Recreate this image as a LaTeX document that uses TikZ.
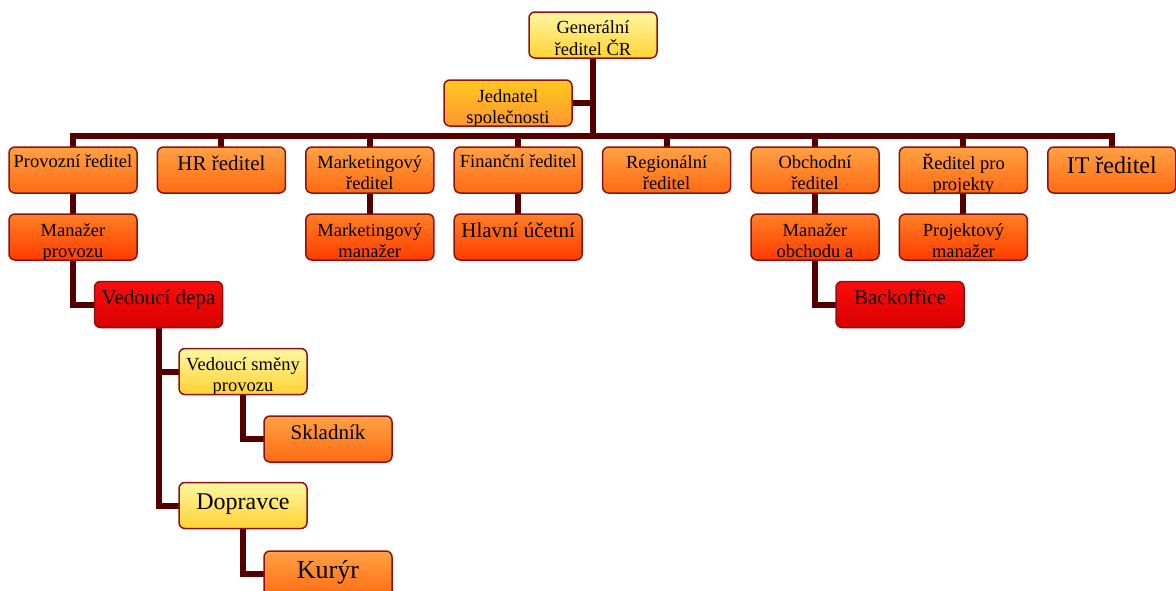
\documentclass[tikz,border=0pt]{standalone}
\usepackage{fontspec}
\setmainfont{Liberation Serif}
\usetikzlibrary{backgrounds}

\definecolor{edgec}{HTML}{8C1212}
\definecolor{linkc}{HTML}{520000}
\definecolor{yeltop}{HTML}{FFF7A2}
\definecolor{yelbot}{HTML}{FFD232}
\definecolor{ambtop}{HTML}{FFC81E}
\definecolor{ambbot}{HTML}{FF9632}
\definecolor{orgtop}{HTML}{FFA244}
\definecolor{orgbot}{HTML}{FF6A12}
\definecolor{ortop}{HTML}{FF8024}
\definecolor{orbot}{HTML}{FF3C00}
\definecolor{redtop}{HTML}{FF0C0C}
\definecolor{redbot}{HTML}{D60000}

\tikzset{
  orgbox/.style={draw=edgec, line width=1.5pt, rounded corners=6pt,
    minimum width=128pt, minimum height=46pt, inner sep=0pt, outer sep=0pt},
  yel/.style={top color=yeltop, bottom color=yelbot},
  amb/.style={top color=ambtop, bottom color=ambbot},
  org/.style={top color=orgtop, bottom color=orgbot},
  orr/.style={top color=ortop, bottom color=orbot},
  rd/.style={top color=redtop, bottom color=redbot},
  link/.style={draw=linkc, line width=6pt},
}

% name, x, y, fill style, font size, baseline offset from top, text
\newcommand\orgnode[7]{%
  \node[orgbox,#4,path picture={%
      \node[anchor=base,inner sep=0pt] at ([yshift=-#6pt]path picture bounding box.north)
        {\fontsize{#5pt}{21pt}\selectfont\begin{tabular}[t]{@{}c@{}}#7\end{tabular}};}]
    (#1) at (#2,#3) {};}

\begin{document}
\begin{tikzpicture}[x=1pt,y=-1pt]
\useasboundingbox (0,0) rectangle (1176,590);
\clip (0,0) rectangle (1176,590);

% top
\orgnode{gen}{593}{35}{yel}{18.5}{21.2}{Generální\\ředitel ČR}
\orgnode{jed}{508}{103}{amb}{18.5}{22.2}{Jednatel\\společnosti}

% directors
\orgnode{prov}{73}{170}{org}{18.5}{20.8}{Provozní ředitel}
\orgnode{hr}{221.4}{170}{org}{21}{23.7}{HR ředitel}
\orgnode{mark}{369.8}{170}{org}{18.5}{21.2}{Marketingový\\ředitel}
\orgnode{fin}{518.2}{170}{org}{18.5}{20.8}{Finanční ředitel}
\orgnode{reg}{666.6}{170}{org}{18.5}{21.2}{Regionální\\ředitel}
\orgnode{obch}{815}{170}{org}{18.5}{21.2}{Obchodní\\ředitel}
\orgnode{proj}{963.4}{170}{org}{18.5}{22.2}{Ředitel pro\\projekty}
\orgnode{it}{1111.8}{170}{org}{24}{26}{IT ředitel}

% managers
\orgnode{mprov}{73}{237}{orr}{18.5}{22.4}{Manažer\\provozu}
\orgnode{mman}{369.8}{237}{orr}{18.5}{22.2}{Marketingový\\manažer}
\orgnode{ucet}{518.2}{237}{orr}{21}{23.7}{Hlavní účetní}
\orgnode{mobch}{815}{237}{orr}{18.5}{22.2}{Manažer\\obchodu a}
\orgnode{pman}{963.4}{237}{orr}{18.5}{22.2}{Projektový\\manažer}

% lower levels
\orgnode{depa}{158.5}{304.5}{rd}{21}{23}{Vedoucí depa}
\orgnode{back}{900}{304.5}{rd}{21}{23}{Backoffice}
\orgnode{vsm}{243}{371.5}{yel}{18.5}{22.4}{Vedoucí směny\\provozu}
\orgnode{skl}{328}{439}{org}{21}{23.3}{Skladník}
\orgnode{dop}{243}{505.5}{yel}{24}{27}{Dopravce}
\orgnode{kur}{328}{574}{org}{26}{27}{Kurýr}

\coordinate (bus) at (593,136);

\begin{pgfonlayer}{background}
  \draw[link] (gen.south) -- (bus);
  \draw[link] (jed.east) -- (jed.east -| gen.south);
  \draw[link] (prov.north) |- (bus) -| (it.north);
  \foreach \n in {hr,mark,fin,reg,obch,proj}
    \draw[link] (\n.north) -- (\n.north |- bus);
  \draw[link] (prov.south) -- (mprov.north);
  \draw[link] (mark.south) -- (mman.north);
  \draw[link] (fin.south) -- (ucet.north);
  \draw[link] (obch.south) -- (mobch.north);
  \draw[link] (proj.south) -- (pman.north);
  \draw[link] (mprov.south) |- (depa.west);
  \draw[link] (mobch.south) |- (back.west);
  \draw[link] (depa.south) |- (vsm.west);
  \draw[link] (depa.south) |- (dop.west);
  \draw[link] (vsm.south) |- (skl.west);
  \draw[link] (dop.south) |- (kur.west);
\end{pgfonlayer}
\end{tikzpicture}
\end{document}
